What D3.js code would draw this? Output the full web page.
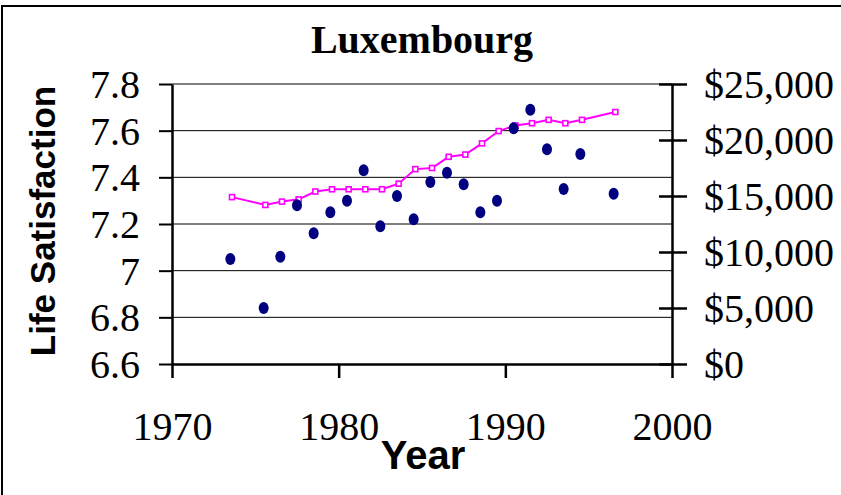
<!DOCTYPE html>
<html lang="en">
<head>
    <style>
        body { margin: 0; background: #fff; }
        .grid line { stroke: #000; stroke-width: 1px; }
        .tick-label { font-family: "Liberation Serif", "Times New Roman", serif; font-size: 40px; fill: #000; }
    </style>
    <script src="https://d3js.org/d3.v7.min.js"></script>
</head>
<body>
    <svg width="841" height="495"></svg>
    <script>
        // values
        var years = [1973, 1975, 1976, 1977, 1978, 1979, 1980, 1981, 1982, 1983, 1984,
                     1985, 1986, 1987, 1988, 1989, 1990, 1991, 1992, 1993, 1994, 1996];
        var lifeSat = [7.05, 6.84, 7.06, 7.28, 7.16, 7.25, 7.30, 7.43, 7.19, 7.32, 7.22,
                       7.38, 7.42, 7.37, 7.25, 7.30, 7.61, 7.69, 7.52, 7.35, 7.50, 7.33];
        var gdp = [14900, 14200, 14500, 14700, 15400, 15600, 15600, 15600, 15600, 16100, 17400,
                   17500, 18500, 18700, 19700, 20800, 21300, 21500, 21800, 21500, 21800, 22500];
        var leftTicks = [6.6, 6.8, 7, 7.2, 7.4, 7.6, 7.8];
        var rightTicks = [0, 5000, 10000, 15000, 20000, 25000];
        var xTicks = [1970, 1980, 1990, 2000];

        var svg = d3.select("svg");
        var plotL = 172, plotR = 672, plotT = 84, plotB = 364;

        var x = d3.scaleLinear().domain([1970, 2000]).range([plotL, plotR]);
        var y = d3.scaleLinear().domain([6.6, 7.8]).range([plotB, plotT]);
        var y2 = d3.scaleLinear().domain([0, 25000]).range([plotB, plotT]);

        // outer frame
        svg.append("rect")
            .attr("x", 2).attr("y", 6)
            .attr("width", 900).attr("height", 600)
            .attr("fill", "none")
            .attr("stroke", "#000")
            .attr("stroke-width", 2);

        svg.append("text")
            .attr("x", 422).attr("y", 53)
            .attr("text-anchor", "middle")
            .attr("font-family", "'Liberation Serif', 'Times New Roman', serif")
            .attr("font-weight", "bold")
            .attr("font-size", "40px")
            .text("Luxembourg");

        // gridlines
        svg.append("g").attr("class", "grid")
            .selectAll("line")
            .data(leftTicks.slice(1, -1))
            .enter().append("line")
            .attr("x1", plotL).attr("x2", plotR)
            .attr("y1", function(d) { return y(d); })
            .attr("y2", function(d) { return y(d); });

        svg.append("line")
            .attr("x1", plotL).attr("x2", plotR)
            .attr("y1", plotT).attr("y2", plotT)
            .attr("stroke", "#808080").attr("stroke-width", 2);

        // left axis
        var yAxis = svg.append("g")
            .attr("transform", "translate(" + plotL + ",0)")
            .call(d3.axisLeft(y).tickValues(leftTicks).tickSize(13).tickSizeOuter(0)
                .tickFormat(function(d) { return d3.format("")(+d.toFixed(1)); }));
        yAxis.select(".domain").attr("stroke-width", 2.5);
        yAxis.selectAll(".tick line").attr("stroke-width", 2);
        yAxis.selectAll(".tick text")
            .attr("class", "tick-label")
            .attr("x", -32)
            .attr("dy", "0.34em");

        // right axis
        var y2Axis = svg.append("g")
            .attr("transform", "translate(" + plotR + ",0)")
            .call(d3.axisRight(y2).tickValues(rightTicks).tickSize(15).tickSizeOuter(0)
                .tickFormat(function(d) { return "$" + d3.format(",")(d); }));
        y2Axis.select(".domain").attr("stroke-width", 2.5);
        y2Axis.selectAll(".tick line").attr("x1", -13).attr("stroke-width", 2.5);
        y2Axis.selectAll(".tick text")
            .attr("class", "tick-label")
            .attr("x", 32)
            .attr("dy", "0.34em");

        // bottom axis
        var xAxis = svg.append("g")
            .attr("transform", "translate(0," + plotB + ")")
            .call(d3.axisBottom(x).tickValues(xTicks).tickSize(14).tickSizeOuter(0)
                .tickFormat(d3.format("d")));
        xAxis.select(".domain").attr("stroke-width", 2.5);
        xAxis.selectAll(".tick line").attr("stroke-width", 2.5);
        xAxis.selectAll(".tick text")
            .attr("class", "tick-label")
            .attr("y", 76)
            .attr("dy", 0);

        // GDP line
        var line = d3.line()
            .x(function(d, i) { return x(years[i] + 0.6); })
            .y(function(d) { return y2(d); });

        svg.append("path")
            .datum(gdp)
            .attr("d", line)
            .attr("fill", "none")
            .attr("stroke", "#ff00ff")
            .attr("stroke-width", 2);

        svg.selectAll(".sq")
            .data(gdp)
            .enter().append("rect")
            .attr("class", "sq")
            .attr("x", function(d, i) { return x(years[i] + 0.6) - 2.5; })
            .attr("y", function(d) { return y2(d) - 2.5; })
            .attr("width", 5).attr("height", 5)
            .attr("fill", "#fff")
            .attr("stroke", "#ff00ff")
            .attr("stroke-width", 1.6);

        // life satisfaction dots
        svg.selectAll(".dot")
            .data(lifeSat)
            .enter().append("ellipse")
            .attr("class", "dot")
            .attr("cx", function(d, i) { return x(years[i] + 0.5); })
            .attr("cy", function(d) { return y(d); })
            .attr("rx", 5).attr("ry", 6)
            .attr("fill", "#000080");

        // axis titles
        svg.append("text")
            .attr("x", 423).attr("y", 469)
            .attr("text-anchor", "middle")
            .attr("font-family", "'Liberation Sans', Arial, sans-serif")
            .attr("font-weight", "bold")
            .attr("font-size", "40px")
            .text("Year");

        svg.append("text")
            .attr("transform", "translate(55,221) rotate(-90)")
            .attr("text-anchor", "middle")
            .attr("font-family", "'Liberation Sans', Arial, sans-serif")
            .attr("font-weight", "bold")
            .attr("font-size", "35px")
            .text("Life Satisfaction");
    </script>
</body>
</html>
